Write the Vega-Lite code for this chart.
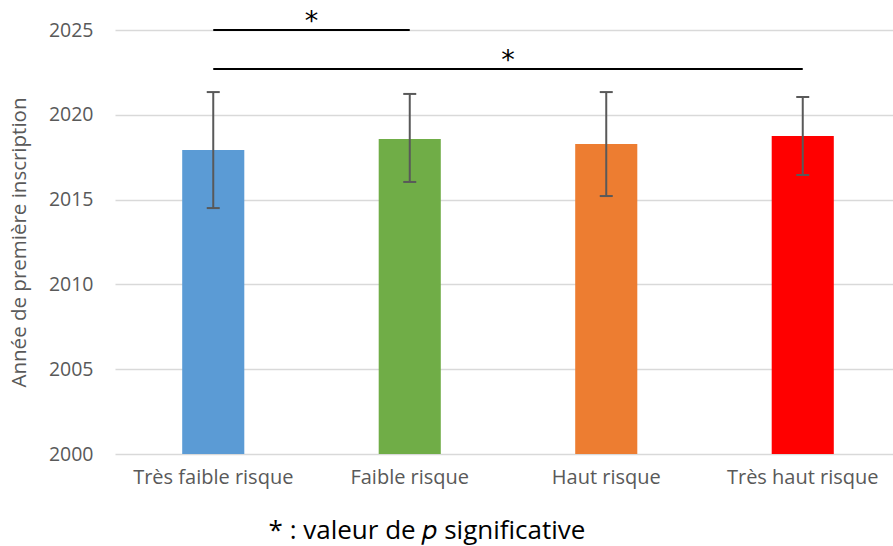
{
  "$schema": "https://vega.github.io/schema/vega-lite/v6.json",
  "width": 786,
  "height": 424,
  "autosize": {"type": "none"},
  "padding": {"left": 115, "top": 30, "right": 0, "bottom": 92},
  "background": "white",
  "config": {"view": {"stroke": null}, "font": "Open Sans"},
  "title": {
    "text": "* : valeur de 𝑝 significative",
    "orient": "bottom",
    "anchor": "middle",
    "fontSize": 26,
    "font": "Open Sans",
    "fontWeight": "normal",
    "color": "black",
    "dx": -81,
    "offset": 31
  },
  "datasets": {
    "bars": [
      {"cat": "Très faible risque", "mean": 2017.92, "lo": 2014.5, "hi": 2021.34},
      {"cat": "Faible risque", "mean": 2018.57, "lo": 2016.04, "hi": 2021.23},
      {"cat": "Haut risque", "mean": 2018.28, "lo": 2015.21, "hi": 2021.34},
      {"cat": "Très haut risque", "mean": 2018.75, "lo": 2016.45, "hi": 2021.05}
    ],
    "sig": [
      {"from": 0.5, "to": 1.5, "mid": 1.0, "level": 2025},
      {"from": 0.5, "to": 3.5, "mid": 2.0, "level": 2022.7}
    ]
  },
  "layer": [
    {
      "data": {"name": "bars"},
      "encoding": {
        "x": {
          "field": "cat",
          "type": "nominal",
          "sort": null,
          "scale": {"paddingInner": 0.684, "paddingOuter": 0.342},
          "axis": {
            "title": null,
            "labelAngle": 0,
            "labelFontSize": 20,
            "labelColor": "#595959",
            "labelPadding": 13,
            "ticks": false,
            "domain": false
          }
        }
      },
      "layer": [
        {
          "mark": {"type": "bar"},
          "encoding": {
            "y": {
              "field": "mean",
              "type": "quantitative",
              "scale": {"domain": [2000, 2025], "zero": false, "nice": false},
              "axis": {
                "values": [2000, 2005, 2010, 2015, 2020, 2025],
                "format": "d",
                "title": "Année de première inscription",
                "titleFontSize": 20.5,
                "titleFontWeight": "normal",
                "titleColor": "#595959",
                "titlePadding": 19,
                "labelFontSize": 19.5,
                "labelColor": "#595959",
                "labelPadding": 22,
                "ticks": false,
                "domain": false,
                "gridColor": "#d9d9d9",
                "gridWidth": 1.5
              }
            },
            "y2": {"datum": 2000},
            "color": {
              "field": "cat",
              "type": "nominal",
              "scale": {
                "domain": ["Très faible risque", "Faible risque", "Haut risque", "Très haut risque"],
                "range": ["#5B9BD5", "#70AD47", "#ED7D31", "#FF0000"]
              },
              "legend": null
            }
          }
        },
        {
          "mark": {"type": "rule", "color": "#595959", "strokeWidth": 2},
          "encoding": {
            "y": {"field": "lo", "type": "quantitative"},
            "y2": {"field": "hi"}
          }
        },
        {
          "mark": {"type": "tick", "orient": "horizontal", "color": "#595959", "thickness": 2, "size": 13, "opacity": 1},
          "encoding": {"y": {"field": "hi", "type": "quantitative"}}
        },
        {
          "mark": {"type": "tick", "orient": "horizontal", "color": "#595959", "thickness": 2, "size": 13, "opacity": 1},
          "encoding": {"y": {"field": "lo", "type": "quantitative"}}
        }
      ]
    },
    {
      "data": {"name": "sig"},
      "encoding": {
        "y": {"field": "level", "type": "quantitative"}
      },
      "layer": [
        {
          "mark": {"type": "rule", "color": "black", "strokeWidth": 2},
          "encoding": {
            "x": {"field": "from", "type": "quantitative", "scale": {"domain": [0, 4], "nice": false, "zero": false}, "axis": null},
            "x2": {"field": "to"}
          }
        },
        {
          "mark": {"type": "text", "text": "*", "fontSize": 27, "font": "DejaVu Sans", "baseline": "alphabetic", "color": "black", "dy": 0},
          "encoding": {
            "x": {"field": "mid", "type": "quantitative", "axis": null}
          }
        }
      ]
    }
  ],
  "resolve": {"scale": {"x": "independent"}}
}
